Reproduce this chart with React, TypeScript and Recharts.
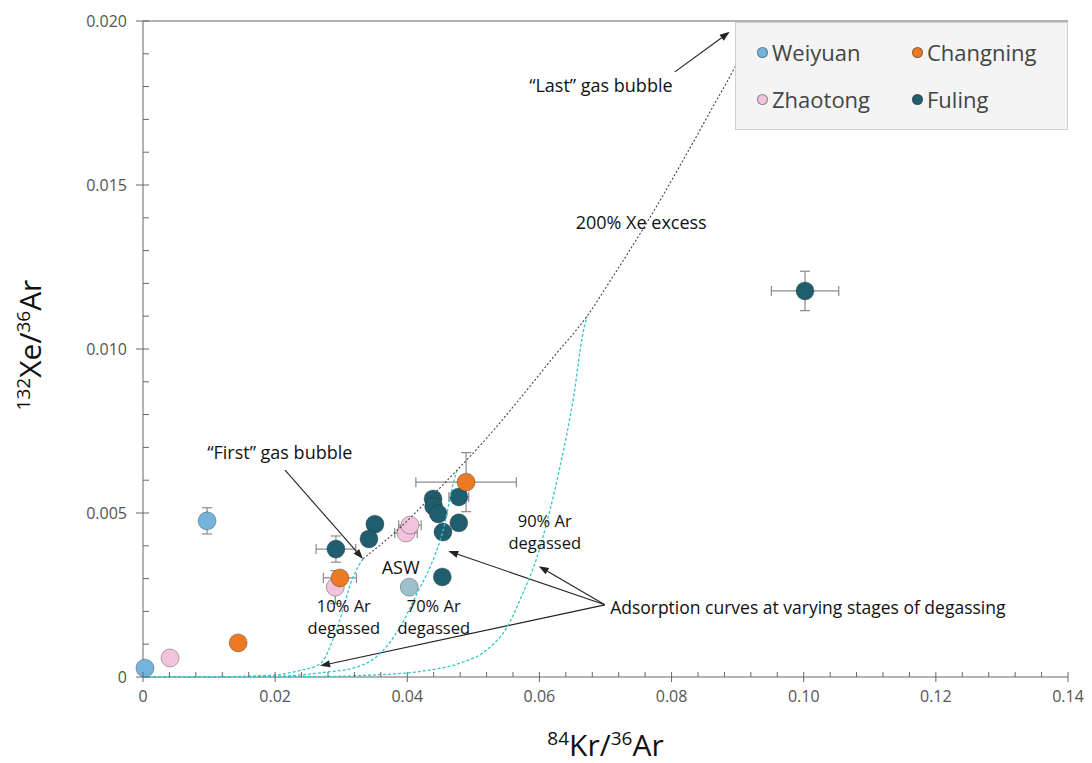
import React from 'react';
import {
  ScatterChart, Scatter, XAxis, YAxis, ErrorBar, ReferenceDot, ReferenceLine, Label,
} from 'recharts';

// ---------- data ----------
const X_TICKS = [0, 0.02, 0.04, 0.06, 0.08, 0.1, 0.12, 0.14];
const X_TICK_LABELS = ['0', '0.02', '0.04', '0.06', '0.08', '0.10', '0.12', '0.14'];
const X_MINOR_TICKS = [0, 0.004, 0.008, 0.012, 0.016, 0.02, 0.024, 0.028, 0.032, 0.036, 0.04, 0.044, 0.048, 0.052, 0.056, 0.06, 0.064, 0.068, 0.072, 0.076, 0.08, 0.084, 0.088, 0.092, 0.096, 0.1, 0.104, 0.108, 0.112, 0.116, 0.12, 0.124, 0.128, 0.132, 0.136, 0.14];
const Y_TICKS = [0, 0.005, 0.01, 0.015, 0.02];
const Y_TICK_LABELS = ['0', '0.005', '0.010', '0.015', '0.020'];
const Y_MINOR_TICKS = [0, 0.001, 0.002, 0.003, 0.004, 0.005, 0.006, 0.007, 0.008, 0.009, 0.01, 0.011, 0.012, 0.013, 0.014, 0.015, 0.016, 0.017, 0.018, 0.019, 0.02];

const WEIYUAN = [
  { x: 0.0003, y: 0.00027 },
  { x: 0.0097, y: 0.00476, ey: 0.0004 },
];
const ZHAOTONG = [
  { x: 0.0041, y: 0.00058, ex: 0.0007 },
  { x: 0.0291, y: 0.00274, ey: 0.0005 },
  { x: 0.0398, y: 0.00439, ex: 0.0017 },
  { x: 0.0404, y: 0.00463, ex: 0.0017 },
];
const CHANGNING = [
  { x: 0.0144, y: 0.00104 },
  { x: 0.0298, y: 0.00302, ex: 0.0025 },
  { x: 0.0489, y: 0.00594, ex: 0.0076, ey: 0.0009 },
];
const FULING = [
  { x: 0.1002, y: 0.01177, ex: 0.0051, ey: 0.0006 },
  { x: 0.0292, y: 0.0039, ex: 0.003, ey: 0.0004 },
  { x: 0.0351, y: 0.00466 },
  { x: 0.0342, y: 0.00421 },
  { x: 0.0439, y: 0.00543 },
  { x: 0.044, y: 0.0052 },
  { x: 0.0447, y: 0.00497 },
  { x: 0.0478, y: 0.00549, ex: 0.0015 },
  { x: 0.0478, y: 0.0047 },
  { x: 0.0454, y: 0.00442 },
  { x: 0.0453, y: 0.00305 },
];
const ASW = [{ x: 0.0403, y: 0.00274 }];

const CURVE_XE200 = [
  { x: 0.0333, y: 0.0036 }, { x: 0.0389, y: 0.00455 }, { x: 0.0434, y: 0.00545 },
  { x: 0.0475, y: 0.0063 }, { x: 0.0521, y: 0.0073 }, { x: 0.0571, y: 0.0085 },
  { x: 0.0621, y: 0.00975 }, { x: 0.0672, y: 0.011 }, { x: 0.0711, y: 0.0122 },
  { x: 0.0767, y: 0.014 }, { x: 0.0813, y: 0.0156 }, { x: 0.0863, y: 0.0174 },
  { x: 0.0896, y: 0.0186 }, { x: 0.092, y: 0.0196 },
];
const CURVE_10 = [
  { x: 0, y: 0 }, { x: 0.012, y: 0.00001 }, { x: 0.0197, y: 0.00006 }, { x: 0.0238, y: 0.0002 },
  { x: 0.0268, y: 0.0004 }, { x: 0.0294, y: 0.0015 }, { x: 0.0318, y: 0.00305 }, { x: 0.0333, y: 0.0036 },
];
const CURVE_70 = [
  { x: 0, y: 0 }, { x: 0.02, y: 0.00002 }, { x: 0.0278, y: 0.00015 }, { x: 0.0318, y: 0.00027 },
  { x: 0.0358, y: 0.0007 }, { x: 0.0389, y: 0.00152 }, { x: 0.0415, y: 0.00256 },
  { x: 0.0439, y: 0.00357 }, { x: 0.0454, y: 0.00445 }, { x: 0.0469, y: 0.00585 }, { x: 0.0475, y: 0.0063 },
];
const CURVE_90 = [
  { x: 0, y: 0 }, { x: 0.025, y: 0.00001 }, { x: 0.0348, y: 0.00006 }, { x: 0.043, y: 0.0002 },
  { x: 0.0481, y: 0.00043 }, { x: 0.052, y: 0.00082 }, { x: 0.0551, y: 0.00152 },
  { x: 0.0575, y: 0.00256 }, { x: 0.0595, y: 0.00357 }, { x: 0.0616, y: 0.00509 },
  { x: 0.0631, y: 0.0064 }, { x: 0.0651, y: 0.00845 }, { x: 0.0666, y: 0.01049 }, { x: 0.0672, y: 0.011 },
];

// texts with '\n' are drawn as two lines centred on (x, y)
const TEXT_NOTES = [
  { text: '\u201CLast\u201D gas bubble', x: 0.0693, y: 0.01805 },
  { text: '200% Xe excess', x: 0.0754, y: 0.01387 },
  { text: '\u201CFirst\u201D gas bubble', x: 0.0207, y: 0.00686 },
  { text: 'ASW', x: 0.039, y: 0.00335 },
  { text: '10% Ar\ndegassed', x: 0.0304, y: 0.00185 },
  { text: '70% Ar\ndegassed', x: 0.044, y: 0.00185 },
  { text: '90% Ar\ndegassed', x: 0.0608, y: 0.00443 },
];
const LEFT_NOTES = [
  { text: 'Adsorption curves at varying stages of degassing', x: 0.0707, y: 0.00213 },
];
const ARROWS = [
  { x1: 0.0805, y1: 0.01845, x2: 0.0888, y2: 0.01967 },
  { x1: 0.0215, y1: 0.00631, x2: 0.0333, y2: 0.0036 },
  { x1: 0.0699, y1: 0.0022, x2: 0.0462, y2: 0.00384 },
  { x1: 0.0699, y1: 0.0022, x2: 0.0599, y2: 0.00338 },
  { x1: 0.0699, y1: 0.0022, x2: 0.0268, y2: 0.00034 },
];

const LEGEND = [
  { name: 'Weiyuan', color: '#74B4DC' },
  { name: 'Changning', color: '#EC7A22' },
  { name: 'Zhaotong', color: '#F2C3DC' },
  { name: 'Fuling', color: '#1F5E6E' },
];

// ---------- styles ----------
const FONT = '"Open Sans", "Noto Sans", sans-serif';
const COLORS = {
  Weiyuan: '#74B4DC', Changning: '#EC7A22', Zhaotong: '#F2C3DC', Fuling: '#1F5E6E', ASW: '#9DC2CB',
};
const TEAL = '#35C6C6';
const AXIS = '#666';

const dot = (fill: string) => (p: any) => (
  <circle cx={p.cx} cy={p.cy} r={9} fill={fill} stroke="rgba(40,40,40,0.45)" strokeWidth={0.8} />
);
const noShape = () => <g />;

const Arrow = (p: any) => {
  const { x1, y1, x2, y2 } = p;
  const a = Math.atan2(y2 - y1, x2 - x1);
  const L = 10, W = 3.6;
  const bx = x2 - L * Math.cos(a), by = y2 - L * Math.sin(a);
  const px = -Math.sin(a) * W, py = Math.cos(a) * W;
  return (
    <g>
      <line x1={x1} y1={y1} x2={bx} y2={by} stroke="#222" strokeWidth={1.1} />
      <polygon points={`${x2},${y2} ${bx + px},${by + py} ${bx - px},${by - py}`} fill="#222" />
    </g>
  );
};

const LINE_GAP = 22;
const noteShape = (text: string, anchor: string) => (p: any) => {
  const lines = text.split('\n');
  if (lines.length === 1) {
    return (
      <text x={p.cx} y={p.cy} textAnchor={anchor} dominantBaseline="central"
        fontFamily={FONT} fontSize={anchor === 'start' ? 17.5 : 18} fill="#111">{text}</text>
    );
  }
  const top = p.cy - ((lines.length - 1) * LINE_GAP) / 2;
  return (
    <g>
      {lines.map((ln, i) => (
        <text key={i} x={p.cx} y={top + i * LINE_GAP} textAnchor={anchor} dominantBaseline="central"
          fontFamily={FONT} fontSize={16.5} fill="#111">{ln}</text>
      ))}
    </g>
  );
};

const findIdx = (arr: number[], v: number) => arr.findIndex((t) => Math.abs(t - v) < 1e-9);

// custom ticks: axis tickSize/tickMargin are 0, so (x, y) is the axis position
const XTick = (p: any) => {
  const v = p.payload.value;
  const mi = findIdx(X_TICKS, v);
  const major = mi >= 0;
  return (
    <g>
      <line x1={p.x} x2={p.x} y1={p.y - 5} y2={major ? p.y + 5 : p.y} stroke={AXIS} strokeWidth={1} />
      {major && (
        <text x={p.x} y={p.y + 25} textAnchor="middle" fontFamily={FONT} fontSize={16} fill="#555">
          {X_TICK_LABELS[mi]}
        </text>
      )}
    </g>
  );
};
const YTick = (p: any) => {
  const v = p.payload.value;
  const mi = findIdx(Y_TICKS, v);
  const major = mi >= 0;
  return (
    <g>
      <line x1={major ? p.x - 7 : p.x} x2={p.x + 6} y1={p.y} y2={p.y} stroke={AXIS} strokeWidth={1} />
      {major && (
        <text x={p.x - 16} y={p.y} textAnchor="end" dominantBaseline="central" fontFamily={FONT} fontSize={16} fill="#555">
          {Y_TICK_LABELS[mi]}
        </text>
      )}
    </g>
  );
};

const XTitle = (props: any) => {
  const vb = props.viewBox || { x: 135, y: 669, width: 925 };
  const cx = vb.x + vb.width / 2;
  return (
    <text x={cx} y={vb.y + 79} textAnchor="middle" fontFamily={FONT} fill="#111">
      <tspan fontSize={19} dy={-11}>84</tspan>
      <tspan fontSize={30} dy={11}>Kr/</tspan>
      <tspan fontSize={19} dy={-11}>36</tspan>
      <tspan fontSize={30} dy={11}>Ar</tspan>
    </text>
  );
};

const YTitle = (props: any) => {
  const vb = props.viewBox || { x: 75, width: 60, y: 13, height: 656 };
  const x = vb.x + vb.width - 102;
  const y = vb.y + vb.height / 2 - 4;
  return (
    <text x={x} y={y} textAnchor="middle" fontFamily={FONT} fill="#111" transform={`rotate(-90, ${x}, ${y})`}>
      <tspan fontSize={19} dy={-11}>132</tspan>
      <tspan fontSize={30} dy={11}>Xe/</tspan>
      <tspan fontSize={19} dy={-11}>36</tspan>
      <tspan fontSize={30} dy={11}>Ar</tspan>
    </text>
  );
};

export default function App() {
  return (
    <div style={{ position: 'relative', width: 1076, height: 760 }}>
      <ScatterChart width={1076} height={760} margin={{ top: 13, right: 16, bottom: 61, left: 75 }}>
        <XAxis type="number" dataKey="x" domain={[0, 0.14]} ticks={X_MINOR_TICKS} interval={0}
          height={30} tickSize={0} tickMargin={0} tickLine={false} tick={XTick}
          axisLine={{ stroke: AXIS }}>
          <Label content={XTitle} />
        </XAxis>
        <YAxis type="number" dataKey="y" domain={[0, 0.02]} ticks={Y_MINOR_TICKS} interval={0}
          width={60} tickSize={0} tickMargin={0} tickLine={false} tick={YTick}
          axisLine={{ stroke: AXIS }}>
          <Label content={YTitle} />
        </YAxis>
        <ReferenceLine y={0.02} stroke={AXIS} strokeWidth={1} />

        <Scatter name="ASW" data={ASW} shape={dot(COLORS.ASW)} isAnimationActive={false} />
        <Scatter name="Weiyuan" data={WEIYUAN} shape={dot(COLORS.Weiyuan)} isAnimationActive={false}>
          <ErrorBar dataKey="ex" direction="x" width={5} stroke="#8c8c8c" strokeWidth={1.2} />
          <ErrorBar dataKey="ey" direction="y" width={5} stroke="#8c8c8c" strokeWidth={1.2} />
        </Scatter>
        <Scatter name="Zhaotong" data={ZHAOTONG} shape={dot(COLORS.Zhaotong)} isAnimationActive={false}>
          <ErrorBar dataKey="ex" direction="x" width={5} stroke="#8c8c8c" strokeWidth={1.2} />
          <ErrorBar dataKey="ey" direction="y" width={5} stroke="#8c8c8c" strokeWidth={1.2} />
        </Scatter>
        <Scatter name="Fuling" data={FULING} shape={dot(COLORS.Fuling)} isAnimationActive={false}>
          <ErrorBar dataKey="ex" direction="x" width={5} stroke="#8c8c8c" strokeWidth={1.2} />
          <ErrorBar dataKey="ey" direction="y" width={5} stroke="#8c8c8c" strokeWidth={1.2} />
        </Scatter>
        <Scatter name="Changning" data={CHANGNING} shape={dot(COLORS.Changning)} isAnimationActive={false}>
          <ErrorBar dataKey="ex" direction="x" width={5} stroke="#8c8c8c" strokeWidth={1.2} />
          <ErrorBar dataKey="ey" direction="y" width={5} stroke="#8c8c8c" strokeWidth={1.2} />
        </Scatter>

        <Scatter data={CURVE_10} shape={noShape} line={{ stroke: TEAL, strokeWidth: 1.3, strokeDasharray: '3 2' }}
          lineType="joint" lineJointType="monotoneX" isAnimationActive={false} />
        <Scatter data={CURVE_70} shape={noShape} line={{ stroke: TEAL, strokeWidth: 1.3, strokeDasharray: '3 2' }}
          lineType="joint" lineJointType="monotoneX" isAnimationActive={false} />
        <Scatter data={CURVE_90} shape={noShape} line={{ stroke: TEAL, strokeWidth: 1.3, strokeDasharray: '3 2' }}
          lineType="joint" lineJointType="monotoneX" isAnimationActive={false} />
        <Scatter data={CURVE_XE200} shape={noShape} line={{ stroke: '#444', strokeWidth: 1.1, strokeDasharray: '2 2' }}
          lineType="joint" lineJointType="monotoneX" isAnimationActive={false} />

        {ARROWS.map((a, i) => (
          <ReferenceLine key={`arr${i}`} segment={[{ x: a.x1, y: a.y1 }, { x: a.x2, y: a.y2 }]}
            shape={Arrow} ifOverflow="visible" />
        ))}
        {TEXT_NOTES.map((n, i) => (
          <ReferenceDot key={`t${i}`} x={n.x} y={n.y} r={0} ifOverflow="visible" shape={noteShape(n.text, 'middle')} />
        ))}
        {LEFT_NOTES.map((n, i) => (
          <ReferenceDot key={`l${i}`} x={n.x} y={n.y} r={0} ifOverflow="visible" shape={noteShape(n.text, 'start')} />
        ))}
      </ScatterChart>

      <div style={{
        position: 'absolute', left: 727, top: 14, width: 333, height: 108,
        background: '#f4f4f4', border: '1px solid #cfcfcf', boxSizing: 'border-box',
        fontFamily: FONT, fontSize: 22, color: '#444',
      }}>
        {LEGEND.map((l, i) => {
          const col = i % 2, row = Math.floor(i / 2);
          return (
            <div key={l.name} style={{
              position: 'absolute', left: col === 0 ? 21 : 176, top: row === 0 ? 14 : 61,
              display: 'flex', alignItems: 'center', whiteSpace: 'nowrap',
            }}>
              <span style={{
                display: 'inline-block', width: 9, height: 9, borderRadius: '50%', background: l.color,
                border: '0.8px solid rgba(60,60,60,0.5)', marginRight: 4,
              }} />
              <span>{l.name}</span>
            </div>
          );
        })}
      </div>
    </div>
  );
}
